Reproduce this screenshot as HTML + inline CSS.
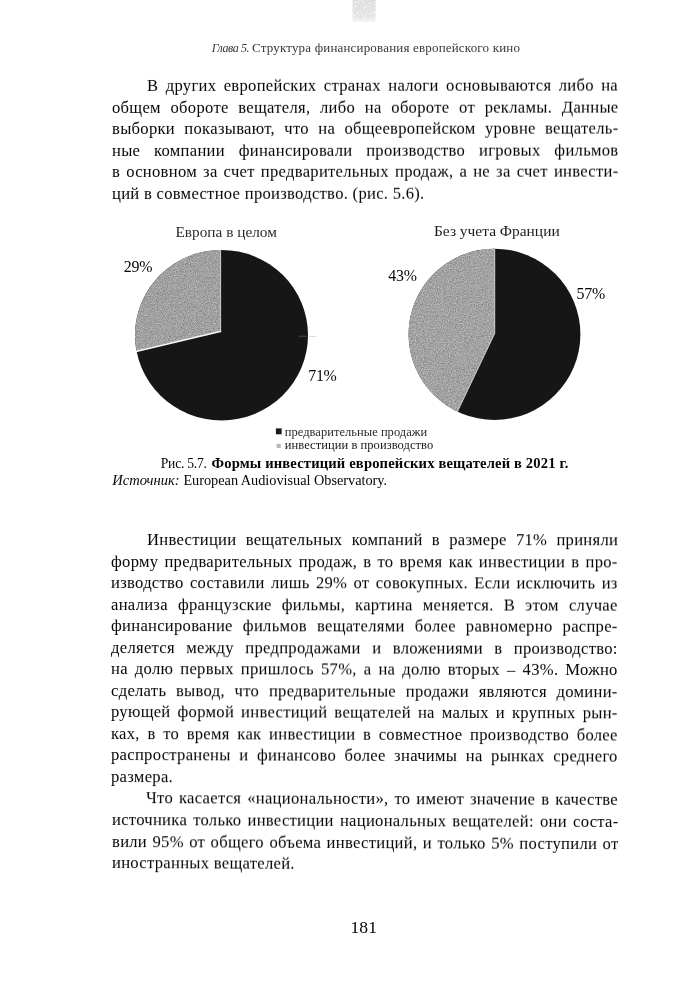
<!DOCTYPE html>
<html lang="ru"><head><meta charset="utf-8"><title>page 181</title>
<style>
html,body{margin:0;padding:0;background:#fff;}
body{width:685px;height:1000px;position:relative;overflow:hidden;font-family:"Liberation Serif",serif;color:#050505;}
.l{position:absolute;white-space:nowrap;margin:0;padding:0;filter:blur(0.25px);}
.b{letter-spacing:0.29px;}
.j{text-align:justify;text-align-last:justify;white-space:normal;}
.pies{position:absolute;left:0;top:0;}
</style></head><body>
<svg class="pies" width="685" height="1000" viewBox="0 0 685 1000">
<defs>
<filter id="sp" x="0" y="0" width="100%" height="100%" color-interpolation-filters="sRGB">
<feTurbulence type="fractalNoise" baseFrequency="0.85" numOctaves="2" seed="7" result="t"/>
<feColorMatrix in="t" type="matrix" values="0 0 0 0 0.42  0 0 0 0 0.42  0 0 0 0 0.42  1.6 0 0 0 -0.62" result="d"/>
<feColorMatrix in="t" type="matrix" values="0 0 0 0 0.82  0 0 0 0 0.82  0 0 0 0 0.82  0 1.6 0 0 -0.62" result="w"/>
<feMerge result="m"><feMergeNode in="d"/><feMergeNode in="w"/></feMerge>
<feComposite in="m" in2="SourceGraphic" operator="in"/>
</filter>
<filter id="sp2" x="0" y="0" width="100%" height="100%" color-interpolation-filters="sRGB">
<feTurbulence type="fractalNoise" baseFrequency="0.9" numOctaves="2" seed="11" result="t"/>
<feColorMatrix in="t" type="matrix" values="0 0 0 0 1  0 0 0 0 1  0 0 0 0 1  2.2 0 0 0 -0.85" result="d"/>
<feComposite in="d" in2="SourceGraphic" operator="in"/>
</filter>
<linearGradient id="pg" x1="0" y1="0" x2="0" y2="1"><stop offset="0" stop-color="#d6d6d6"/><stop offset="0.75" stop-color="#dedede"/><stop offset="1" stop-color="#f2f2f2"/></linearGradient>
<filter id="soft"><feGaussianBlur stdDeviation="0.45"/></filter>
</defs>
<g filter="url(#soft)">
<rect x="352.6" y="-1" width="23" height="23" fill="url(#pg)"/>
<rect x="352.6" y="-1" width="23" height="23" fill="#fff" filter="url(#sp2)"/>
<!-- pie 1 -->
<ellipse cx="221.5" cy="335.15" rx="86.5" ry="85.25" fill="#191919"/>
<path d="M220.8 331.5 L220.8 249.9 A86.5 85.25 0 0 0 136.6 351.5 Z" fill="#9f9f9f"/>
<path d="M220.8 331.5 L220.8 249.9 A86.5 85.25 0 0 0 136.6 351.5 Z" fill="#9f9f9f" filter="url(#sp)"/>
<path d="M220.6 250.1 L220.6 331.5" stroke="#cacaca" stroke-width="1" fill="none"/>
<path d="M221.2 331.3 L136.0 351.6" stroke="#f6f6f6" stroke-width="1.5" fill="none"/>
<path d="M298.5 336.2 L307.6 336.2" stroke="#5a5a5a" stroke-width="0.7" fill="none"/>
<path d="M308.4 336.4 L316 336.6" stroke="#cdcdcd" stroke-width="0.7" fill="none"/>
<!-- pie 2 -->
<ellipse cx="494.5" cy="334.3" rx="85.9" ry="85.6" fill="#191919"/>
<path d="M494.9 333.4 L494.9 248.7 A85.9 85.6 0 0 0 457.6 411.6 Z" fill="#a2a2a2"/>
<path d="M494.9 333.4 L494.9 248.7 A85.9 85.6 0 0 0 457.6 411.6 Z" fill="#a2a2a2" filter="url(#sp)"/>
<path d="M494.7 248.9 L494.7 333.4 L457.4 411.7" stroke="#cfcfcf" stroke-width="0.9" fill="none"/>
<!-- legend squares -->
<rect x="275.9" y="428.4" width="5.8" height="5.9" fill="#1a1a1a"/>
<rect x="276.6" y="443.8" width="4.2" height="4.2" fill="#b8b8b8"/>
</g>
</svg>
<div class="l" style="top:40.91px;left:211.70px;font-size:12.0px;line-height:15.0px;height:15.0px;color:#383838;letter-spacing:-0.4px;"><i>Глава 5.</i></div>
<div class="l" style="top:39.91px;left:252.00px;font-size:13.0px;line-height:16.25px;height:16.25px;color:#383838;letter-spacing:0.18px;">Структура финансирования европейского кино</div>
<div class="l j b" style="top:76.23px;left:147.00px;font-size:16.6px;line-height:20.75px;height:20.75px;width:471.00px;transform-origin:-35.5px 72%;transform:rotate(-0.0452deg);">В других европейских странах налоги основываются либо на</div>
<div class="l j b" style="top:97.78px;left:111.50px;font-size:16.6px;line-height:20.75px;height:20.75px;width:506.50px;transform-origin:0.0px 72%;transform:rotate(-0.0452deg);">общем обороте вещателя, либо на обороте от рекламы. Данные</div>
<div class="l j b" style="top:119.34px;left:111.50px;font-size:16.6px;line-height:20.75px;height:20.75px;width:506.50px;transform-origin:0.0px 72%;transform:rotate(-0.0452deg);">выборки показывают, что на общеевропейском уровне вещатель-</div>
<div class="l j b" style="top:140.92px;left:111.50px;font-size:16.6px;line-height:20.75px;height:20.75px;width:506.50px;transform-origin:0.0px 72%;transform:rotate(-0.0452deg);">ные компании финансировали производство игровых фильмов</div>
<div class="l j b" style="top:162.48px;left:111.50px;font-size:16.6px;line-height:20.75px;height:20.75px;width:506.50px;transform-origin:0.0px 72%;transform:rotate(-0.0452deg);">в основном за счет предварительных продаж, а не за счет инвести-</div>
<div class="l b" style="top:184.06px;left:111.50px;font-size:16.6px;line-height:20.75px;height:20.75px;transform-origin:0.0px 72%;transform:rotate(-0.0452deg);">ций в совместное производство. (рис. 5.6).</div>
<div class="l j b" style="top:529.99px;left:146.80px;font-size:16.6px;line-height:20.75px;height:20.75px;width:471.20px;transform-origin:-35.3px 72%;transform:rotate(0.0283deg);">Инвестиции вещательных компаний в размере 71% приняли</div>
<div class="l j b" style="top:551.55px;left:111.30px;font-size:16.6px;line-height:20.75px;height:20.75px;width:506.70px;transform-origin:0.2px 72%;transform:rotate(0.0441deg);">форму предварительных продаж, в то время как инвестиции в про-</div>
<div class="l j b" style="top:573.08px;left:111.30px;font-size:16.6px;line-height:20.75px;height:20.75px;width:506.70px;transform-origin:0.2px 72%;transform:rotate(0.0599deg);">изводство составили лишь 29% от совокупных. Если исключить из</div>
<div class="l j b" style="top:594.61px;left:111.30px;font-size:16.6px;line-height:20.75px;height:20.75px;width:506.70px;transform-origin:0.2px 72%;transform:rotate(0.0757deg);">анализа французские фильмы, картина меняется. В этом случае</div>
<div class="l j b" style="top:616.15px;left:111.30px;font-size:16.6px;line-height:20.75px;height:20.75px;width:506.70px;transform-origin:0.2px 72%;transform:rotate(0.0915deg);">финансирование фильмов вещателями более равномерно распре-</div>
<div class="l j b" style="top:637.69px;left:111.30px;font-size:16.6px;line-height:20.75px;height:20.75px;width:506.70px;transform-origin:0.2px 72%;transform:rotate(0.1073deg);">деляется между предпродажами и вложениями в производство:</div>
<div class="l j b" style="top:659.22px;left:111.30px;font-size:16.6px;line-height:20.75px;height:20.75px;width:506.70px;transform-origin:0.2px 72%;transform:rotate(0.1232deg);">на долю первых пришлось 57%, а на долю вторых – 43%. Можно</div>
<div class="l j b" style="top:680.75px;left:111.30px;font-size:16.6px;line-height:20.75px;height:20.75px;width:506.70px;transform-origin:0.2px 72%;transform:rotate(0.1390deg);">сделать вывод, что предварительные продажи являются домини-</div>
<div class="l j b" style="top:702.29px;left:111.30px;font-size:16.6px;line-height:20.75px;height:20.75px;width:506.70px;transform-origin:0.2px 72%;transform:rotate(0.1548deg);">рующей формой инвестиций вещателей на малых и крупных рын-</div>
<div class="l j b" style="top:723.82px;left:111.30px;font-size:16.6px;line-height:20.75px;height:20.75px;width:506.70px;transform-origin:0.2px 72%;transform:rotate(0.1706deg);">ках, в то время как инвестиции в совместное производство более</div>
<div class="l j b" style="top:745.36px;left:111.30px;font-size:16.6px;line-height:20.75px;height:20.75px;width:506.70px;transform-origin:0.2px 72%;transform:rotate(0.1864deg);">распространены и финансово более значимы на рынках среднего</div>
<div class="l b" style="top:766.89px;left:111.30px;font-size:16.6px;line-height:20.75px;height:20.75px;transform-origin:0.2px 72%;transform:rotate(0.2023deg);">размера.</div>
<div class="l j b" style="top:788.29px;left:146.00px;font-size:16.6px;line-height:20.75px;height:20.75px;width:472.00px;transform-origin:-34.5px 72%;transform:rotate(0.2181deg);">Что касается «национальности», то имеют значение в качестве</div>
<div class="l j b" style="top:809.96px;left:111.50px;font-size:16.6px;line-height:20.75px;height:20.75px;width:506.50px;transform-origin:0.0px 72%;transform:rotate(0.2339deg);">источника только инвестиции национальных вещателей: они соста-</div>
<div class="l j b" style="top:831.50px;left:111.50px;font-size:16.6px;line-height:20.75px;height:20.75px;width:506.50px;transform-origin:0.0px 72%;transform:rotate(0.2497deg);">вили 95% от общего объема инвестиций, и только 5% поступили от</div>
<div class="l b" style="top:853.03px;left:111.50px;font-size:16.6px;line-height:20.75px;height:20.75px;transform-origin:0.0px 72%;transform:rotate(0.2655deg);">иностранных вещателей.</div>
<div class="l" style="top:222.40px;left:175.50px;font-size:15.3px;line-height:19.12px;height:19.12px;color:#2c2c2c;">Европа в целом</div>
<div class="l" style="top:221.11px;left:434.00px;font-size:15.45px;line-height:19.31px;height:19.31px;color:#1c1c1c;">Без учета Франции</div>
<div class="l" style="top:257.01px;left:123.70px;font-size:15.9px;line-height:19.88px;height:19.88px;letter-spacing:-0.2px;">29%</div>
<div class="l" style="top:366.01px;left:308.30px;font-size:15.9px;line-height:19.88px;height:19.88px;letter-spacing:-0.35px;">71%</div>
<div class="l" style="top:266.42px;left:388.20px;font-size:15.9px;line-height:19.88px;height:19.88px;letter-spacing:-0.15px;">43%</div>
<div class="l" style="top:283.72px;left:576.60px;font-size:15.9px;line-height:19.88px;height:19.88px;letter-spacing:-0.2px;">57%</div>
<div class="l" style="top:424.91px;left:284.80px;font-size:12.5px;line-height:15.62px;height:15.62px;color:#2a2a2a;letter-spacing:0.03px;">предварительные продажи</div>
<div class="l" style="top:437.81px;left:284.80px;font-size:12.5px;line-height:15.62px;height:15.62px;color:#1a1a1a;letter-spacing:0.06px;">инвестиции в производство</div>
<div class="l" style="top:455.41px;left:160.80px;font-size:13.6px;line-height:17.0px;height:17.0px;letter-spacing:-0.25px;">Рис. 5.7.</div>
<div class="l" style="top:454.40px;left:211.50px;font-size:14.6px;line-height:18.25px;height:18.25px;letter-spacing:0.16px;"><b>Формы инвестиций европейских вещателей в 2021 г.</b></div>
<div class="l" style="top:471.00px;left:112.30px;font-size:14.5px;line-height:18.12px;height:18.12px;"><i>Источник:</i></div>
<div class="l" style="top:472.01px;left:183.40px;font-size:14.3px;line-height:17.88px;height:17.88px;letter-spacing:-0.02px;">European Audiovisual Observatory.</div>
<div class="l" style="top:915.60px;left:350.50px;font-size:17.6px;line-height:22.0px;height:22.0px;letter-spacing:0.05px;">181</div>
</body></html>
